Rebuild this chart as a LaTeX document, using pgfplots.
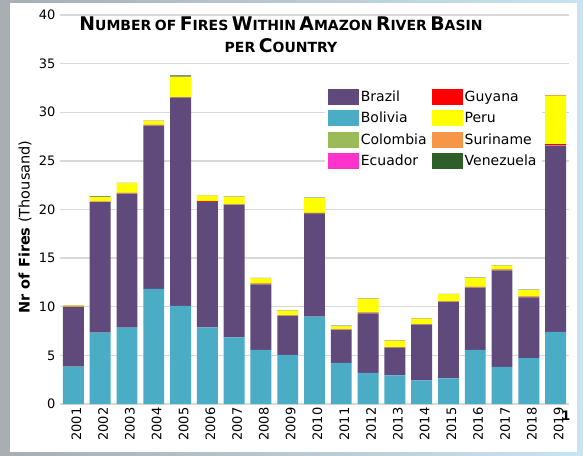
\documentclass[border=0pt]{standalone}
\usepackage{pgfplots}
\pgfplotsset{compat=1.18}
\usepackage{pgfplotstable}
\usepackage{fontspec}
\setmainfont{DejaVu Sans}

\definecolor{brazilc}{HTML}{604A7B}
\definecolor{boliviac}{HTML}{4BACC6}
\definecolor{colombiac}{HTML}{9BBB59}
\definecolor{ecuadorc}{HTML}{FF33CC}
\definecolor{guyanac}{HTML}{FF0000}
\definecolor{peruc}{HTML}{FFFF00}
\definecolor{surinamec}{HTML}{F79646}
\definecolor{venezuelac}{HTML}{2F5F28}
\definecolor{gridc}{HTML}{D9D9D9}

% fires in thousands, stacked bottom to top
\pgfplotstableread{
x  Bolivia Brazil Colombia Ecuador Guyana Peru Suriname Venezuela
0  3.84  6.11  0.06 0.01 0.02 0.08 0.02 0.02
1  7.34  13.41 0.04 0.01 0.02 0.45 0.02 0.06
2  7.85  13.79 0.03 0.01 0.02 1.00 0.02 0.02
3  11.83 16.80 0.03 0.01 0.02 0.42 0.02 0.02
4  10.08 21.42 0.03 0.01 0.02 2.08 0.02 0.12
5  7.89  12.86 0.03 0.01 0.06 0.57 0.02 0.02
6  6.86  13.61 0.03 0.01 0.02 0.78 0.02 0.02
7  5.56  6.75  0.03 0.01 0.02 0.56 0.02 0.02
8  5.04  4.01  0.03 0.01 0.02 0.49 0.02 0.04
9  8.98  10.62 0.03 0.01 0.02 1.50 0.02 0.04
10 4.22  3.39  0.03 0.01 0.02 0.32 0.02 0.04
11 3.19  6.14  0.03 0.01 0.02 1.42 0.02 0.02
12 2.95  2.84  0.03 0.01 0.02 0.64 0.02 0.02
13 2.44  5.72  0.03 0.01 0.02 0.57 0.02 0.02
14 2.64  7.85  0.03 0.01 0.02 0.74 0.02 0.02
15 5.56  6.41  0.03 0.01 0.04 0.90 0.02 0.02
16 3.81  9.94  0.03 0.01 0.04 0.39 0.02 0.02
17 4.73  6.24  0.03 0.01 0.04 0.67 0.02 0.02
18 7.41  19.16 0.03 0.01 0.10 4.98 0.06 0.02
}\fires

\newcommand\BC[1]{{\fontsize{18.8}{20}\selectfont #1}}
\newcommand\SC[1]{{\fontsize{14}{16}\selectfont #1}}

\begin{document}
\begin{tikzpicture}[x=1pt,y=1pt]
\useasboundingbox (0,0) rectangle (583,455);
\shade[left color={rgb,255:red,168;green,174;blue,178}, right color={rgb,255:red,200;green,228;blue,242}] (0,0) rectangle (583,455);
\fill[white] (10,3) rectangle (577,452);

\begin{axis}[
    at={(60pt,51pt)}, anchor=south west,
    scale only axis, width=509pt, height=389pt,
    ybar stacked, bar width=0.78,
    xmin=-0.5, xmax=18.5, ymin=0, ymax=40,
    xtick={0,...,18},
    xticklabels={2001,2002,2003,2004,2005,2006,2007,2008,2009,2010,2011,2012,2013,2014,2015,2016,2017,2018,2019},
    ytick={0,5,...,40},
    ymajorgrids, grid style={draw=gridc, line width=1.3pt},
    axis line style={draw=none}, major tick length=0pt,
    ticklabel style={font=\fontsize{13}{15}\selectfont},
    /pgf/number format/assume math mode=true,
    x tick label style={rotate=90, anchor=east, yshift=-3pt},
    y tick label style={xshift=-1pt},
    legend image code/.code={\fill[#1, draw=none] (0pt,-8pt) rectangle (31pt,8pt);},
    legend columns=2,
    legend cell align=left,
    legend style={at={(0.52,0.815)}, anchor=north west, draw=none, fill=white,
        font=\fontsize{14}{16}\selectfont,
        /tikz/every even column/.append style={column sep=3pt},
        row sep=5pt},
]
\addplot[fill=boliviac, draw=none, forget plot] table[x=x, y=Bolivia] {\fires};
\addplot[fill=brazilc, draw=none, forget plot] table[x=x, y=Brazil] {\fires};
\addplot[fill=colombiac, draw=none, forget plot] table[x=x, y=Colombia] {\fires};
\addplot[fill=ecuadorc, draw=none, forget plot] table[x=x, y=Ecuador] {\fires};
\addplot[fill=guyanac, draw=none, forget plot] table[x=x, y=Guyana] {\fires};
\addplot[fill=peruc, draw=none, forget plot] table[x=x, y=Peru] {\fires};
\addplot[fill=surinamec, draw=none, forget plot] table[x=x, y=Suriname] {\fires};
\addplot[fill=venezuelac, draw=none, forget plot] table[x=x, y=Venezuela] {\fires};

\addlegendimage{fill=brazilc}\addlegendentry{Brazil}
\addlegendimage{fill=guyanac}\addlegendentry{Guyana}
\addlegendimage{fill=boliviac}\addlegendentry{Bolivia}
\addlegendimage{fill=peruc}\addlegendentry{Peru}
\addlegendimage{fill=colombiac}\addlegendentry{Colombia}
\addlegendimage{fill=surinamec}\addlegendentry{Suriname}
\addlegendimage{fill=ecuadorc}\addlegendentry{Ecuador}
\addlegendimage{fill=venezuelac}\addlegendentry{Venezuela}
\end{axis}

\node[anchor=base, font=\bfseries] at (281,424) {\BC{N}\SC{UMBER} \SC{OF} \BC{F}\SC{IRES} \BC{W}\SC{ITHIN} \BC{A}\SC{MAZON} \BC{R}\SC{IVER} \BC{B}\SC{ASIN}};
\node[anchor=base, font=\bfseries] at (281,402) {\SC{PER} \BC{C}\SC{OUNTRY}};
\node[rotate=90, font=\fontsize{14.5}{16}\selectfont] at (25,228) {\textbf{Nr of Fires} (Thousand)};
\node[font=\bfseries\fontsize{13}{15}\selectfont] at (566,39) {1};
\end{tikzpicture}
\end{document}
